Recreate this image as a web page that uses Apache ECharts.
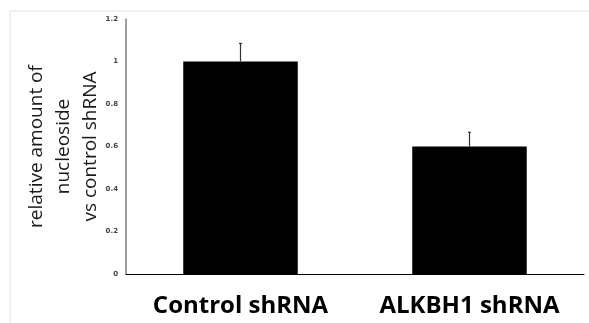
<!DOCTYPE html>
<html><head><meta charset="utf-8">
<script src="https://cdn.jsdelivr.net/npm/echarts@6/dist/echarts.min.js"></script>
<style>html,body{margin:0;padding:0;background:#fff}#c{width:589px;height:323px}</style>
</head><body><div id="c"></div>
<script>
const categories = ['Control shRNA', 'ALKBH1 shRNA'];
const values = [1.0, 0.6];
const errorTops = [1.085, 0.667];
const yTicks = [0, 0.2, 0.4, 0.6, 0.8, 1, 1.2];
const yName = 'relative amount of\nnucleoside\nvs control shRNA';

const chart = echarts.init(document.getElementById('c'));
chart.setOption({
  animation: false,
  backgroundColor: '#fff',
  grid: { left: 126, right: 5, top: 19, bottom: 49, containLabel: false, outerBoundsMode: 'none' },
  graphic: [
    { type: 'line', shape: { x1: 10, y1: 11, x2: 589, y2: 11 }, style: { stroke: '#e3e3e3', lineWidth: 1 } },
    { type: 'line', shape: { x1: 10, y1: 11, x2: 10, y2: 323 }, style: { stroke: '#e3e3e3', lineWidth: 1 } }
  ],
  xAxis: {
    type: 'category', data: categories,
    axisLine: { lineStyle: { color: '#000', width: 1 } },
    axisTick: { show: false },
    axisLabel: { interval: 0, hideOverlap: false, margin: 20, fontFamily: 'Open Sans', fontWeight: 'bold', fontSize: 24, color: '#000' }
  },
  yAxis: {
    type: 'value', min: 0, max: 1.2, interval: 0.2,
    axisLine: { show: true, lineStyle: { color: '#7f7f7f', width: 1.5 } },
    axisTick: { show: false },
    splitLine: { show: false },
    axisLabel: { margin: 8, fontFamily: 'DejaVu Sans', fontWeight: 'bold', fontSize: 7, color: '#444',
      formatter: v => { const t = yTicks.find(x => Math.abs(x - v) < 1e-9); return t === undefined ? '' : String(t); } },
    name: yName, nameLocation: 'middle', nameGap: 22, nameRotate: 90, nameMoveOverlap: false,
    nameTextStyle: { fontFamily: 'Open Sans', fontSize: 19, color: '#1a1a1a', lineHeight: 27 }
  },
  series: [
    { type: 'bar', data: values, barWidth: '50%', itemStyle: { color: '#000' } },
    { type: 'custom', data: values.map((v, i) => [i, v, errorTops[i]]),
      renderItem: (params, api) => {
        const b = api.coord([api.value(0), api.value(1)]);
        const t = api.coord([api.value(0), api.value(2)]);
        return { type: 'group', children: [
          { type: 'line', shape: { x1: b[0], y1: b[1], x2: t[0], y2: t[1] }, style: { stroke: '#333', lineWidth: 1.2 } },
          { type: 'line', shape: { x1: t[0] - 1.5, y1: t[1], x2: t[0] + 1.5, y2: t[1] }, style: { stroke: '#333', lineWidth: 1.2 } }
        ]};
      }, z: 5 }
  ]
});
</script></body></html>
